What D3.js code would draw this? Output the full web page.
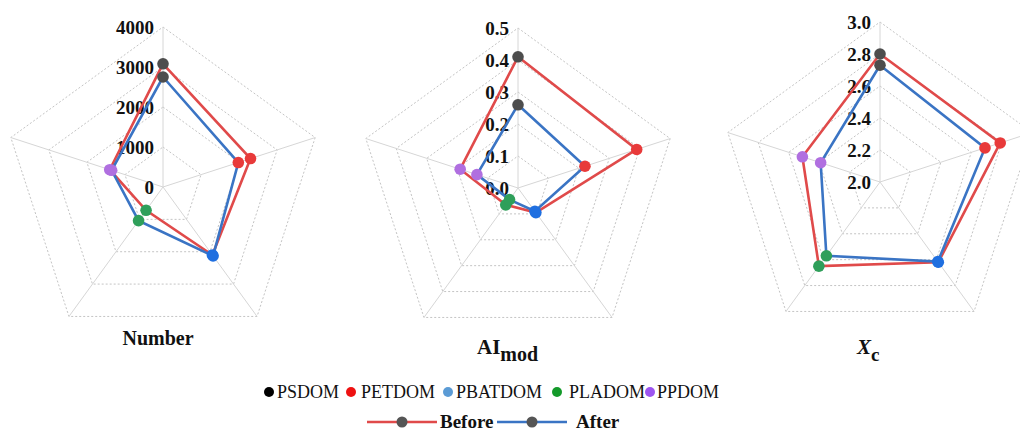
<!DOCTYPE html>
<html>
<head>
<meta charset="utf-8">
<script src="https://cdn.jsdelivr.net/npm/d3@7"></script>
<style>
  html, body { margin: 0; padding: 0; background: #ffffff; }
  svg { display: block; }
</style>
</head>
<body>
<svg id="chart" width="1020" height="432"></svg>
<script>
// Axis categories, clockwise from the top spoke
const categories = ["PSDOM", "PETDOM", "PBATDOM", "PLADOM", "PPDOM"];

// Number of particles
const numberBefore = [3080, 2300, 2100, 720, 1400];
const numberAfter  = [2750, 1980, 2130, 1040, 1350];
const numberTicks  = [0, 1000, 2000, 3000, 4000];

// Modified aromaticity index
const aiBefore = [0.41, 0.39, 0.095, 0.065, 0.19];
const aiAfter  = [0.26, 0.22, 0.09, 0.045, 0.135];
const aiTicks  = [0.0, 0.1, 0.2, 0.3, 0.4, 0.5];

// Condensation degree
const xcBefore = [2.80, 2.79, 2.62, 2.65, 2.51];
const xcAfter  = [2.73, 2.69, 2.615, 2.57, 2.39];
const xcTicks  = [2.0, 2.2, 2.4, 2.6, 2.8, 3.0];

const pointColor = d3.scaleOrdinal()
  .domain(categories)
  .range(["#4d4d4d", "#e83a3a", "#1f6fe0", "#2f9f5a", "#b06fe0"]);
const legendColor = d3.scaleOrdinal()
  .domain(categories)
  .range(["#000000", "#ee1111", "#5b9bd5", "#149a2a", "#9d55f0"]);
const beforeColor = "#e04a4a";
const afterColor = "#3a74c4";

const svg = d3.select("#chart");
const serif = "'Liberation Serif', 'DejaVu Serif', serif";

const panels = [
  { cx: 163, cy: 187, before: numberBefore, after: numberAfter, ticks: numberTicks, fmt: d3.format("d") },
  { cx: 518, cy: 188, before: aiBefore, after: aiAfter, ticks: aiTicks, fmt: d3.format(".1f") },
  { cx: 880, cy: 182, before: xcBefore, after: xcAfter, ticks: xcTicks, fmt: d3.format(".1f") }
];

const R = 160;
const angle = d3.scalePoint()
  .domain(categories)
  .range([0, 2 * Math.PI * (categories.length - 1) / categories.length]);

function pt(a, r) {
  return [r * Math.sin(a), -r * Math.cos(a)];
}

panels.forEach(p => {
  const r = d3.scaleLinear()
    .domain([p.ticks[0], p.ticks[p.ticks.length - 1]])
    .range([0, R]);
  const g = svg.append("g").attr("transform", `translate(${p.cx},${p.cy})`);

  // dotted rings
  const ring = d3.lineRadial()
    .angle(d => angle(d.c))
    .radius(d => r(d.v))
    .curve(d3.curveLinearClosed);
  p.ticks.slice(1).forEach(t => {
    g.append("path")
      .attr("d", ring(categories.map(c => ({ c, v: t }))))
      .attr("fill", "none")
      .attr("stroke", "#c4c4c4")
      .attr("stroke-width", 1)
      .attr("stroke-dasharray", "2,2");
  });

  // spokes
  categories.forEach(c => {
    const [x, y] = pt(angle(c), R);
    g.append("line")
      .attr("x1", 0).attr("y1", 0).attr("x2", x).attr("y2", y)
      .attr("stroke", "#d6d6d6").attr("stroke-width", 1);
  });

  // tick labels along the top spoke
  g.selectAll("text.tick")
    .data(p.ticks)
    .join("text")
    .attr("class", "tick")
    .attr("x", -9)
    .attr("y", d => -r(d))
    .attr("dy", "0.35em")
    .attr("text-anchor", "end")
    .attr("font-family", serif)
    .attr("font-weight", "bold")
    .attr("font-size", 19)
    .attr("fill", "#111")
    .text(d => p.fmt(d));

  // series polygons
  const shape = d3.lineRadial()
    .angle((d, i) => angle(categories[i]))
    .radius(d => r(d))
    .curve(d3.curveLinearClosed);
  [[p.before, beforeColor], [p.after, afterColor]].forEach(([vals, col]) => {
    g.append("path")
      .attr("d", shape(vals))
      .attr("fill", "none")
      .attr("stroke", col)
      .attr("stroke-width", 2.6)
      .attr("stroke-linejoin", "miter");
  });

  // markers
  [p.before, p.after].forEach(vals => {
    g.selectAll(null)
      .data(vals)
      .join("circle")
      .attr("cx", (d, i) => pt(angle(categories[i]), r(d))[0])
      .attr("cy", (d, i) => pt(angle(categories[i]), r(d))[1])
      .attr("r", 5.8)
      .attr("fill", (d, i) => pointColor(categories[i]));
  });
});

// panel titles
svg.append("text")
  .attr("x", 158).attr("y", 345)
  .attr("text-anchor", "middle")
  .attr("font-family", serif).attr("font-weight", "bold").attr("font-size", 20)
  .attr("fill", "#111")
  .text("Number");

const ai = svg.append("text")
  .attr("x", 477).attr("y", 354)
  .attr("font-family", serif).attr("font-weight", "bold")
  .attr("fill", "#111");
ai.append("tspan").attr("font-size", 21).text("AI");
ai.append("tspan").attr("font-size", 20).attr("dy", 7).text("mod");

const xc = svg.append("text")
  .attr("x", 857).attr("y", 354)
  .attr("font-family", serif).attr("font-weight", "bold")
  .attr("fill", "#111");
xc.append("tspan").attr("font-size", 21).attr("font-style", "italic").text("X");
xc.append("tspan").attr("font-size", 19).attr("dy", 7).text("c");

// legend: categories
const legendItems = [
  { c: "PSDOM", dot: 269, tx: 277 },
  { c: "PETDOM", dot: 351, tx: 361 },
  { c: "PBATDOM", dot: 448, tx: 456 },
  { c: "PLADOM", dot: 557, tx: 569 },
  { c: "PPDOM", dot: 650, tx: 657 }
];
const lg = svg.append("g");
legendItems.forEach(it => {
  lg.append("circle").attr("cx", it.dot).attr("cy", 392).attr("r", 5)
    .attr("fill", legendColor(it.c));
  lg.append("text").attr("x", it.tx).attr("y", 398)
    .attr("font-family", serif).attr("font-size", 18).attr("fill", "#111")
    .text(it.c);
});

// legend: series
const seriesLegend = [
  { name: "Before", col: beforeColor, x1: 367, x2: 437, dot: 402, tx: 440 },
  { name: "After", col: afterColor, x1: 497, x2: 567, dot: 532, tx: 576 }
];
seriesLegend.forEach(s => {
  lg.append("line").attr("x1", s.x1).attr("x2", s.x2).attr("y1", 422).attr("y2", 422)
    .attr("stroke", s.col).attr("stroke-width", 2.6);
  lg.append("circle").attr("cx", s.dot).attr("cy", 422).attr("r", 5.5).attr("fill", "#555");
  lg.append("text").attr("x", s.tx).attr("y", 428)
    .attr("font-family", serif).attr("font-weight", "bold").attr("font-size", 19)
    .attr("fill", "#111").text(s.name);
});
</script>
</body>
</html>
